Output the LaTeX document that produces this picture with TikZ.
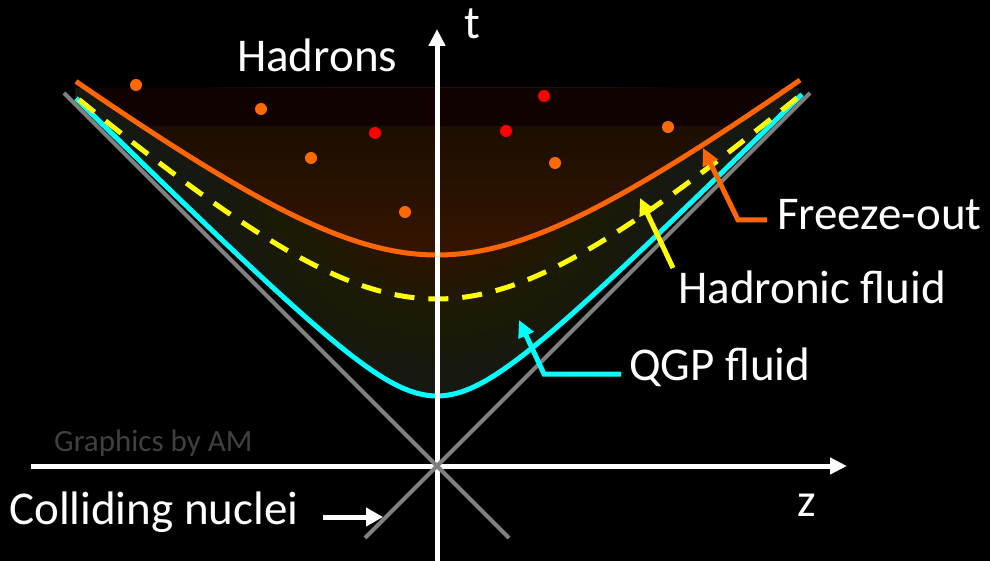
\documentclass[tikz,border=0pt]{standalone}
\usepackage{fontspec}
\setmainfont{Carlito}
\usetikzlibrary{arrows.meta}
\definecolor{frz}{HTML}{FF6600}
\definecolor{hadc}{HTML}{FFFF00}
\definecolor{qgpc}{HTML}{00FFFF}
\definecolor{conec}{HTML}{808080}
\definecolor{redd}{HTML}{FF0000}
\definecolor{orgd}{HTML}{FF6A00}
\definecolor{glowA}{HTML}{2A1300}
\definecolor{glowB}{HTML}{1C1A03}
\definecolor{glowC}{HTML}{161912}
\definecolor{bandtop}{HTML}{110202}
\definecolor{bandhi}{HTML}{1C0E00}
\definecolor{bandlo}{HTML}{361500}
\definecolor{creditc}{HTML}{404040}
\begin{document}
\begin{tikzpicture}[x=1pt,y=-1pt,
  declare function={
    tfo(\z)=80+100*sqrt(1.7161+0.58*(\z/100)*(\z/100));
    thad(\z)=100*sqrt(2.7889+0.83*(\z/100)*(\z/100));
    tqgp(\z)=100*sqrt(0.49+(\z/100)*(\z/100));
  },
  axis/.style={white, line width=5pt, -{Triangle[width=16pt,length=17pt]}},
  cone/.style={conec, line width=4pt},
  curve/.style={line width=5pt},
  lbl/.style={text=white, font=\fontsize{47}{50}\selectfont, inner sep=0pt, anchor=base west},
  dot/.style={circle, inner sep=0pt, minimum size=12pt},
  pointer/.style={line width=5pt, -{Triangle[width=16pt,length=17pt]}}
]
\useasboundingbox (0,0) rectangle (990,561);
\fill[black] (0,0) rectangle (990,561);

% fluid region
\begin{scope}
\clip plot[domain=75:799,samples=150] (\x,{466-tqgp(\x-437)}) -- (799,88) -- (75,88) -- cycle;
\fill[glowC] (60,80) rectangle (830,420);
\foreach \k in {0,...,20}{
  \pgfmathsetmacro\rr{240-4*\k}
  \pgfmathsetmacro\pp{5*\k}
  \fill[glowB!\pp!glowC] (437,150) circle[radius=\rr pt];
}
\foreach \k in {0,...,12}{
  \pgfmathsetmacro\rr{160-4*\k}
  \pgfmathsetmacro\pp{100*\k/12}
  \fill[glowA!\pp!glowB] (437,150) circle[radius=\rr pt];
}
\end{scope}

% hadron gas region above freeze-out
\begin{scope}
\clip (70,88) rectangle (805,300);
\clip plot[domain=70:805,samples=150] (\x,{466-tfo(\x-437)}) -- cycle;
\fill[bandtop] (70,88) rectangle (805,127);
\shade[top color=bandhi, bottom color=bandlo] (70,127) rectangle (805,257);
\end{scope}

% curves
\draw[curve, qgpc] plot[domain=76:802,samples=150] (\x,{466-tqgp(\x-437)});
\draw[curve, hadc, dash pattern=on 20pt off 14pt] plot[domain=79:800,samples=150] (\x,{466-thad(\x-437)});
\draw[curve, frz] plot[domain=76:800,samples=150] (\x,{466-tfo(\x-437)});

% axes
\coordinate (zstart) at (31,466);
\coordinate (zend) at (847,466);
\coordinate (tstart) at (437,561);
\coordinate (tend) at (437,29);
\draw[axis] (zstart) -- (zend);
\draw[axis] (tstart) -- (tend);

% light cone
\coordinate (cla) at (64,93);
\coordinate (clb) at (509,538);
\coordinate (cra) at (810,93);
\coordinate (crb) at (365,538);
\draw[cone] (cla) -- (clb);
\draw[cone] (cra) -- (crb);

% hadrons
\node[dot, fill=orgd] (h1) at (136,85) {};
\node[dot, fill=orgd] (h2) at (261,109) {};
\node[dot, fill=orgd] (h3) at (311,158) {};
\node[dot, fill=orgd] (h4) at (405,212) {};
\node[dot, fill=orgd] (h5) at (555,163) {};
\node[dot, fill=orgd] (h6) at (668,127) {};
\node[dot, fill=redd] (h7) at (375,133) {};
\node[dot, fill=redd] (h8) at (506,131) {};
\node[dot, fill=redd] (h9) at (544,96) {};

% labels
\node[lbl] (hadrons) at (237,72) {Hadrons};
\node[lbl] (tlab) at (464,39) {t};
\node[lbl] (zlab) at (797,516) {z};
\node[lbl] (freeze) at (777,230) {Freeze-out};
\node[lbl] (hadfl) at (678,303) {Hadronic fluid};
\node[lbl] (qgpfl) at (629,380) {QGP fluid};
\node[lbl] (coll) at (9,524) {Colliding nuclei};
\node[lbl, text=creditc, font=\fontsize{31}{34}\selectfont] (credit) at (54,451) {Graphics by AM};

% pointers
\coordinate (fzA) at (767,220);
\coordinate (fzB) at (738,220);
\coordinate (fzT) at (703,148);
\draw[pointer, frz] (fzA) -- (fzB) -- (fzT);
\coordinate (hfA) at (673,268);
\coordinate (hfT) at (640,198);
\draw[pointer, hadc] (hfA) -- (hfT);
\coordinate (qA) at (621,374);
\coordinate (qB) at (544,374);
\coordinate (qT) at (519,320);
\draw[pointer, qgpc] (qA) -- (qB) -- (qT);
\coordinate (cnA) at (323,517);
\coordinate (cnT) at (383,517);
\draw[pointer, white, -{Triangle[width=18pt,length=17pt]}] (cnA) -- (cnT);
\end{tikzpicture}
\end{document}
